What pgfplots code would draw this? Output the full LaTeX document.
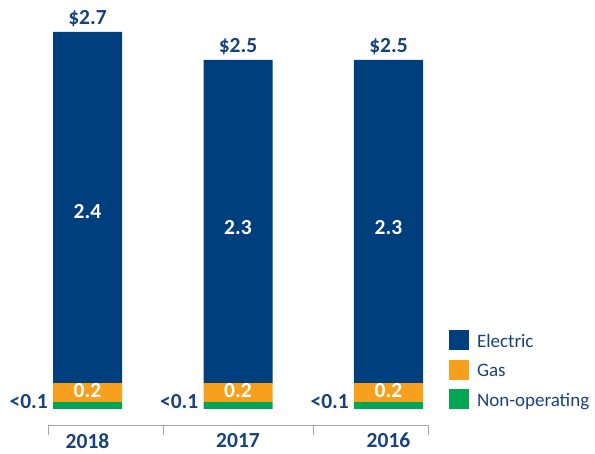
\documentclass[border=0pt]{standalone}
\usepackage{pgfplots}
\pgfplotsset{compat=1.18}
\usepackage{fontspec}
\setmainfont{Carlito}
\definecolor{elec}{RGB}{0,63,125}
\definecolor{gas}{RGB}{247,160,29}
\definecolor{nonop}{RGB}{0,166,81}
\definecolor{txt}{RGB}{22,67,125}
\definecolor{axgray}{RGB}{166,166,166}
\newcommand{\bigbold}{\fontsize{21.5}{25}\selectfont\bfseries}
\begin{document}
\begin{tikzpicture}
\begin{axis}[name=ax,
 scale only axis, width=380pt, height=425pt,
 xmin=-0.2625, xmax=2.2625, ymin=-0.1145, ymax=2.928,
 ybar stacked, bar width=69pt,
 axis x line=bottom, axis y line=none,
 axis line style={axgray, -},
 xtick={0,1,2}, xticklabels={2018,2017,2016},
 minor xtick={-0.2625,0.5,1.5,2.2625},
 tick align=outside, minor tick length=10pt, major tick length=0pt,
 minor x tick style={axgray},
 major x tick style={draw=none},
 x tick label style={font=\bigbold, text=txt, inner sep=0pt, yshift=-8pt},
 clip=false,
 reverse legend,
 legend style={at={(rel axis cs:1.0553,0.2235)}, anchor=north west, draw=none, fill=none,
   inner sep=0pt, outer sep=0pt, row sep=9.5pt, font=\fontsize{19}{21}\selectfont,
   nodes={inner sep=0pt, text height=17pt, text depth=3pt, text=txt},
   /tikz/every odd column/.append style={column sep=8pt}},
 legend cell align=left,
 legend image code/.code={\fill[#1] (0pt,-10pt) rectangle (20pt,10pt);},
]
\addplot[fill=nonop, draw=none] coordinates {(0,0.05) (1,0.05) (2,0.05)};
\addlegendentry{Non-operating}
\addplot[fill=gas, draw=none] coordinates {(0,0.135) (1,0.135) (2,0.135)};
\addlegendentry{Gas}
\addplot[fill=elec, draw=none] coordinates {(0,2.515) (1,2.315) (2,2.315)};
\addlegendentry{Electric}
\coordinate (t0) at (axis cs:0,2.7);
\coordinate (t1) at (axis cs:1,2.5);
\coordinate (t2) at (axis cs:2,2.5);
\coordinate (e0) at (axis cs:0,1.367);
\coordinate (e1) at (axis cs:1,1.246);
\coordinate (e2) at (axis cs:2,1.246);
\coordinate (g0) at (axis cs:0,0.079);
\coordinate (g1) at (axis cs:1,0.079);
\coordinate (g2) at (axis cs:2,0.079);
\coordinate (n0) at (axis cs:-0.2624,0.007);
\coordinate (n1) at (axis cs:0.7376,0.007);
\coordinate (n2) at (axis cs:1.7376,0.007);
\end{axis}
\foreach \i/\v in {0/2.7,1/2.5,2/2.5}{
  \node[font=\bigbold, text=txt, anchor=base, inner sep=0pt, yshift=7pt] at (t\i) {\$\v};
}
\node[font=\bigbold, white, anchor=base, inner sep=0pt] at (e0) {2.4};
\node[font=\bigbold, white, anchor=base, inner sep=0pt] at (e1) {2.3};
\node[font=\bigbold, white, anchor=base, inner sep=0pt] at (e2) {2.3};
\foreach \i in {0,1,2}{
  \node[font=\bigbold, white, anchor=base, inner sep=0pt] at (g\i) {0.2};
  \node[font=\bigbold, text=txt, anchor=base east, inner sep=0pt] at (n\i) {<0.1};
}
\pgfresetboundingbox
\path[use as bounding box] (ax.south west) ++(-48pt,-29pt) rectangle ++(595pt,454pt);
\end{tikzpicture}
\end{document}
